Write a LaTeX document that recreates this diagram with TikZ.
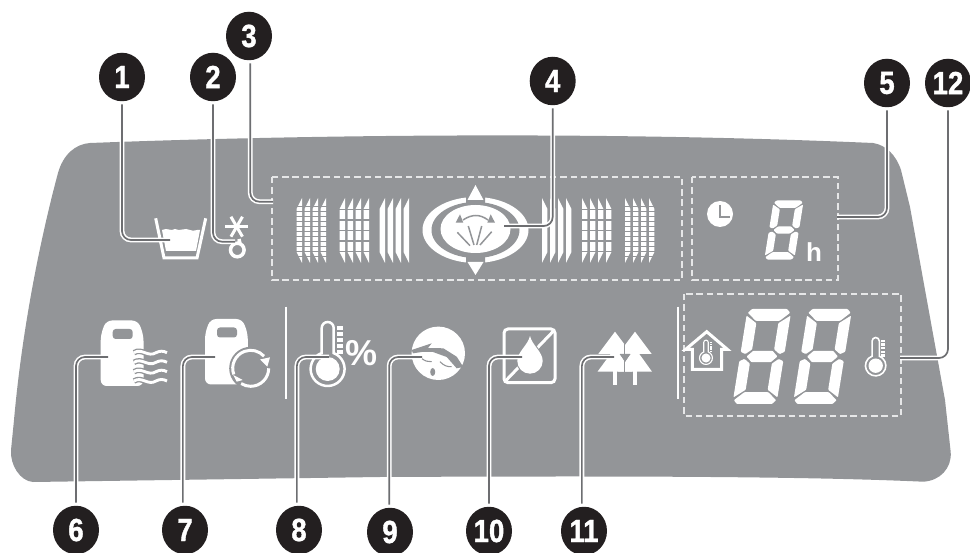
\documentclass[tikz,border=0pt]{standalone}
\usepackage{fontspec}
\setmainfont{Liberation Sans}
\newfontfamily\badgefont{Liberation Sans}[BoldFeatures={FakeBold=1.2,FakeStretch=.86}]
\usetikzlibrary{shapes.geometric}
\definecolor{cpanel}{HTML}{939598}
\definecolor{cbadge}{HTML}{231F20}
\definecolor{cdash}{HTML}{E6E7E8}
\definecolor{cline}{HTML}{6D6E71}
\tikzset{
  badge/.style={ellipse, fill=cbadge, text=white, inner sep=0pt, minimum width=46pt, minimum height=48.5pt, font=\fontsize{32}{32}\badgefont\bfseries},
  leader/.style={draw=cline, line width=1.7pt, rounded corners=9pt, shorten <=3pt, preaction={draw=white, line width=4.8pt}},
  zone/.style={draw=cdash, line width=2.2pt, dash pattern=on 6.5pt off 3.8pt},
  lit/.style={fill=white, draw=none},
  wire/.style={draw=white, line width=3pt},
  cut/.style={fill=cpanel, draw=none},
  divider/.style={draw=white, line width=2pt},
}
\newcommand{\sevenseg}[4]{%
  \begin{scope}[shift={(#1,#2)}, xslant=.16, xscale=#3, yscale=#4]
    \fill[lit, rounded corners=.8pt]
      (-.8,-2) -- (.8,-2) -- (.96,-1.84) -- (.54,-1.5) -- (-.54,-1.5) -- (-.96,-1.84) -- cycle
      (-1,-1.72) -- (-.5,-1.4) -- (-.5,-.3) -- (-.78,-.1) -- (-1,-.2) -- cycle
      (1,-1.72) -- (.5,-1.4) -- (.5,-.3) -- (.78,-.1) -- (1,-.2) -- cycle
      (-.7,0) -- (-.44,-.24) -- (.44,-.24) -- (.7,0) -- (.44,.24) -- (-.44,.24) -- cycle
      (-1,1.72) -- (-.5,1.4) -- (-.5,.3) -- (-.78,.1) -- (-1,.2) -- cycle
      (1,1.72) -- (.5,1.4) -- (.5,.3) -- (.78,.1) -- (1,.2) -- cycle
      (-.8,2) -- (.8,2) -- (.96,1.84) -- (.54,1.5) -- (-.54,1.5) -- (-.96,1.84) -- cycle;
  \end{scope}}
\newcommand{\thermo}[4]{%
  \begin{scope}[shift={(#1,#2)}, scale=#3]
    \draw[draw=white, line width=#4] (-6,-15.9) -- (-6,-41) arc (180:360:6) -- (6,-15.9) arc (291:609:17) -- cycle;
    \fill[lit] (0,0) circle (12);
    \foreach \ty in {-43,-37,-31,-25,-19}
      \fill[lit] (9.5,\ty) rectangle (15,\ty+3.8);
  \end{scope}}
\newcommand{\tank}[2]{%
  \begin{scope}[shift={(#1,#2)}]
    \fill[lit, rounded corners=6pt] (0,65.5) -- (0,14.5) -- (5.3,0) -- (37.3,0) -- (42.8,14.5) -- (42.8,65.5) -- cycle;
    \fill[cut, rounded corners=3pt] (12,8.5) rectangle (32,18.5);
  \end{scope}}
\begin{document}
\begin{tikzpicture}[x=1pt, y=-1pt]
  \useasboundingbox (0,0) rectangle (970,553);
  \fill[cpanel] (90,143) .. controls (300,135) and (600,131) .. (873,143)
    .. controls (886,145) and (896,155) .. (901,170) -- (910,207) -- (945,400) -- (950.7,452)
    .. controls (952,468) and (940,481) .. (923,481.7) .. controls (800,476) and (600,476) .. (380,477)
    -- (33,482) .. controls (20,481) and (10,465) .. (11,450) -- (14,420)
    .. controls (22,330) and (40,240) .. (58,173)
    .. controls (63,155) and (75,144) .. (90,143) -- cycle;
  \draw[zone] (272,177) rectangle (682,280);
  \draw[zone] (692,177) rectangle (838,280);
  \draw[zone] (684,294) rectangle (901,416);
  \draw[divider] (285.7,306.7) -- (285.7,399.3);
  \draw[divider] (678,306.7) -- (678,399.3);
  % bucket
  \draw[wire, line join=miter] (155.7,218.3) -- (164,258) -- (197,258) -- (205.7,218.3);
  \fill[lit] (162,230) .. controls (168,227) and (170,232) .. (175,229) .. controls (180,232) and (185,227) .. (190,230) .. controls (194,232) and (197,229) .. (200,230) -- (196,251) -- (166,251) -- cycle;
  % snow and drop
  \foreach \ang in {0,60,120}
    \draw[wire] (236.7,226.7) ++(\ang:11.5) -- ++(\ang+180:23);
  \draw[wire, line width=3.5pt] (237.3,250) circle (6.8) (240,243.5) -- (239,239);
  % bars
  \foreach \s in {1,-1} {
    \begin{scope}[shift={(475.5,0)}, xscale=\s]
      \foreach \bx in {66.5,74.5,82.5,90.5,106.5,114.5,122.5,130.5,149.5,157.5,165.5,173.5}
        \fill[lit] (\bx,198) -- (\bx+5.4,209) -- (\bx+5.4,252) -- (\bx,263) -- cycle;
      \foreach \gy in {209.3,220,230.7,241,251.7}
        \fill[cut] (104,\gy-.6) rectangle (137,\gy+.6);
      \foreach \gy in {206.7,211.7,...,257}
        \fill[cut] (147,\gy-.7) rectangle (180,\gy+.7);
    \end{scope}}
  % swing ring
  \fill[lit] (475.5,230) ellipse [x radius=53, y radius=33];
  \fill[cut] (475.5,230) ellipse [x radius=44, y radius=28];
  \fill[cut] (466,190) rectangle (485,206) (466,254) rectangle (485,270);
  \fill[lit] (475.5,185) -- (483.5,200) -- (467.5,200) -- cycle;
  \fill[lit] (475.5,275) -- (483.5,262) -- (467.5,262) -- cycle;
  \fill[lit] (475.5,229) ellipse [x radius=35, y radius=24];
  \draw[draw=cpanel, line width=1.5pt] (463,220) .. controls (472,214) and (480,214) .. (488,220);
  \fill[cut] (455.7,222.7) -- (460,214.3) -- (463.3,222.7) -- cycle (487.3,222.7) -- (490.7,214.3) -- (495,222.7) -- cycle;
  \draw[draw=cpanel, line width=1.5pt] (457.3,232.3) -- (470,245.7) (468.3,226) -- (474,245) (481.7,226) -- (476.7,245) (491.7,231.7) -- (480,245);
  % timer
  \fill[lit] (720,214) circle (13);
  \draw[draw=cpanel, line width=2.2pt] (720,205) -- (720,217) -- (730,217);
  \sevenseg{784}{230}{15}{14.8}
  \node[text=white, inner sep=0pt, font=\fontsize{26}{26}\selectfont\bfseries] (unit) at (814,252) {h};
  % tank with waves
  \tank{100.7}{320.5}
  \foreach \wy in {352.7,362.3,371.7,381}
    \draw[draw=white, line width=2.9pt, preaction={draw=cpanel, line width=5.5pt}] (134,\wy) .. controls (142,\wy-5) and (148,\wy+5) .. (156,\wy) .. controls (160,\wy-2) and (163,\wy-2) .. (167,\wy);
  % tank with cycle
  \tank{205}{319}
  \fill[cut] (250.7,368.3) circle (21.5);
  \draw[wire] (250.7,368.3) ++(160:18) arc (160:318:18);
  \draw[wire] (250.7,368.3) ++(0:18) arc (0:122:18);
  \fill[lit] (260,359.5) -- (270,357.3) -- (267.3,366.7) -- cycle (233.3,375) -- (242.7,380) -- (236.7,381.7) -- cycle;
  % humidity
  \thermo{327.7}{369}{1}{2.5pt}
  \node[text=white, inner sep=0pt, font=\fontsize{36}{36}\selectfont\bfseries] (pct) at (362,353.5) {\%};
  % sleep
  \fill[lit] (438.3,353.3) circle (26.7);
  \fill[cut] (411.7,350) -- (431.7,343.3) -- (428,348) -- (443.3,348.3) -- (456.7,356.7) -- (463.3,367) -- (456.7,368.3) -- (446.7,357) -- (433,352) -- (421.7,352) -- (413,353.3) -- cycle;
  \draw[draw=cpanel, line width=1.1pt] (421.7,358.5) .. controls (425,361) and (428,362) .. (431.7,361.7) (440,361.7) .. controls (444,366) and (448,367) .. (451.7,366.7);
  \fill[cut] (432.7,372) ellipse [x radius=2.5, y radius=4];
  % no drop
  \draw[wire, rounded corners=4pt] (504,329) rectangle (555,382.7);
  \draw[wire] (505,381.5) -- (554,330.5);
  \fill[lit, preaction={draw=cpanel, line width=2pt}] (530,336) .. controls (532,345) and (542.7,352) .. (542.7,361) arc (0:180:12.7) .. controls (517.3,352) and (528,345) .. (530,336) -- cycle;
  % trees
  \foreach \tx/\twa/\twb in {615/16.7/17.5, 635/16.7/17} {
    \fill[lit] (\tx,331.7) -- (\tx+\twa,354) -- (\tx-\twa,354) -- cycle;
    \fill[lit] (\tx,348) -- (\tx+\twb,371.7) -- (\tx-\twb,371.7) -- cycle;
    \fill[lit] (\tx-1.6,371) rectangle (\tx+1.6,385);
  }
  \fill[cut] (620,354) -- (630,354) -- (625,362) -- cycle;
  \draw[draw=cpanel, line width=.6pt] (624.7,344) -- (624.7,371.7);
  % indoor
  \draw[wire, line join=miter] (692.3,349.3) -- (685.7,349.3) -- (706.7,331.7) -- (727.3,349.3) -- (721.7,349.3) -- (721.7,369.5) -- (692.3,369.5) -- cycle;
  \thermo{706}{358}{.38}{1.1pt}
  \sevenseg{762}{356.5}{22}{23.75}
  \sevenseg{822.5}{356.5}{22}{23.75}
  \thermo{875.7}{365.7}{.6}{1.6pt}
  % badges
  \node[badge] (b1) at (122,77) {1};
  \node[badge] (b2) at (213,77) {2};
  \node[badge] (b3) at (249,36) {3};
  \node[badge] (b4) at (552.7,81) {4};
  \node[badge] (b5) at (887,83) {5};
  \node[badge] (b12) at (948,83) {12};
  \node[badge] (b6) at (76,530) {6};
  \node[badge] (b7) at (185,530) {7};
  \node[badge] (b8) at (299,530) {8};
  \node[badge] (b9) at (390,532) {9};
  \node[badge] (b10) at (489,531) {10};
  \node[badge] (b11) at (584,531) {11};
  \coordinate (c1) at (170,240);
  \coordinate (c2) at (235,241.7);
  \coordinate (c3) at (273,201.7);
  \coordinate (c4) at (504,226);
  \coordinate (c5) at (837,217);
  \coordinate (c12) at (900,358);
  \coordinate (c6) at (108,357);
  \coordinate (c7) at (215,357);
  \coordinate (c8) at (329,357);
  \coordinate (c9) at (422,357);
  \coordinate (c10) at (522,357);
  \coordinate (c11) at (614,357);
  \draw[leader] (b1.south) |- (c1);
  \draw[leader] (b2.south) |- (c2);
  \draw[leader] (b3.-87) |- (c3);
  \draw[leader] (b4.south) |- (c4);
  \draw[leader] (b5.south) |- (c5);
  \draw[leader] (b12.south) |- (c12);
  \draw[leader] (b6.north) |- (c6);
  \draw[leader] (b7.95) |- (c7);
  \draw[leader] (b8.95) |- (c8);
  \draw[leader] (b9.92) |- (c9);
  \draw[leader] (b10.north) |- (c10);
  \draw[leader] (b11.95) |- (c11);
\end{tikzpicture}
\end{document}
